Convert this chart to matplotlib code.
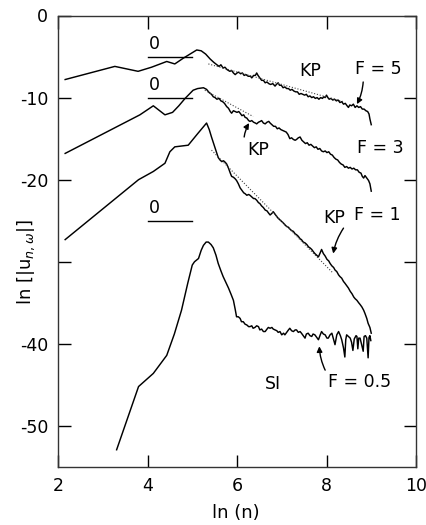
import matplotlib
matplotlib.use("Agg")
import matplotlib.pyplot as plt

# Spectral amplitude curves, ln|u_{n,w}| against ln(n), for four forcing strengths
f5_x = [2.16, 3.27, 3.79, 4.09, 4.43, 4.61, 4.80, 4.95, 5.10, 5.20, 5.30, 5.40, 5.48,
        5.55, 5.60, 5.64, 5.69, 5.73, 5.78, 5.84, 5.88, 5.92, 5.96, 6.00, 6.04, 6.08,
        6.12, 6.16, 6.20, 6.25, 6.30, 6.33, 6.37, 6.41, 6.44, 6.47, 6.51, 6.55, 6.59,
        6.63, 6.67, 6.71, 6.75, 6.80, 6.85, 6.88, 6.92, 6.95, 6.99, 7.03, 7.07, 7.11,
        7.15, 7.19, 7.23, 7.27, 7.31, 7.35, 7.39, 7.43, 7.47, 7.51, 7.55, 7.59, 7.63,
        7.67, 7.71, 7.75, 7.79, 7.83, 7.87, 7.91, 7.94, 7.97, 8.00, 8.03, 8.06, 8.10,
        8.14, 8.18, 8.22, 8.26, 8.30, 8.34, 8.38, 8.42, 8.46, 8.49, 8.52, 8.56, 8.60,
        8.64, 8.68, 8.72, 8.76, 8.80, 8.84, 8.88, 8.92, 8.95, 8.97, 9.00]
f5_y = [-7.8, -6.2, -6.8, -6.3, -5.6, -5.9, -5.2, -4.7, -4.2, -4.3, -4.7, -5.3, -5.7,
        -6.0, -6.2, -6.0, -6.4, -6.3, -6.6, -6.8, -6.7, -7.0, -7.2, -7.0, -6.9, -7.1,
        -7.0, -7.3, -7.2, -7.4, -7.4, -7.6, -7.3, -7.3, -7.0, -7.3, -7.6, -7.9, -7.9,
        -8.2, -8.1, -8.3, -8.4, -8.3, -8.6, -8.4, -8.2, -8.5, -8.5, -8.8, -8.7, -8.9,
        -8.9, -9.1, -9.0, -9.2, -9.3, -9.3, -9.6, -9.5, -9.6, -9.7, -9.6, -9.9, -9.8,
        -10.0, -9.9, -10.1, -10.0, -10.2, -10.0, -10.1, -9.9, -10.0, -9.7, -10.0, -10.2, -10.1,
        -10.3, -10.2, -10.4, -10.3, -10.6, -10.5, -10.8, -10.7, -11.0, -11.2, -10.9, -11.0, -10.8,
        -11.2, -11.0, -11.2, -11.1, -11.4, -11.4, -11.6, -11.7, -12.0, -12.6, -13.3]

f3_x = [2.16, 3.83, 4.13, 4.39, 4.56, 4.70, 4.84, 5.02, 5.12, 5.25, 5.32, 5.38, 5.43,
        5.47, 5.51, 5.55, 5.60, 5.64, 5.68, 5.72, 5.77, 5.81, 5.85, 5.88, 5.92, 5.96,
        6.00, 6.04, 6.07, 6.11, 6.15, 6.18, 6.22, 6.26, 6.29, 6.33, 6.37, 6.41, 6.44,
        6.48, 6.52, 6.55, 6.59, 6.63, 6.67, 6.71, 6.74, 6.78, 6.82, 6.86, 6.90, 6.94,
        6.98, 7.02, 7.06, 7.10, 7.14, 7.18, 7.22, 7.26, 7.30, 7.33, 7.37, 7.41, 7.45,
        7.49, 7.53, 7.57, 7.61, 7.65, 7.69, 7.73, 7.77, 7.81, 7.85, 7.89, 7.93, 7.97,
        8.01, 8.05, 8.09, 8.13, 8.17, 8.21, 8.25, 8.29, 8.33, 8.37, 8.41, 8.45, 8.49,
        8.53, 8.57, 8.61, 8.65, 8.69, 8.73, 8.77, 8.80, 8.83, 8.86, 8.90, 8.94, 8.97, 9.00]
f3_y = [-16.8, -12.1, -11.0, -12.1, -11.8, -11.0, -10.1, -9.1, -8.9, -8.8, -9.0, -9.4, -9.6,
        -9.9, -10.0, -10.2, -10.1, -10.4, -10.5, -10.7, -11.1, -11.3, -11.7, -11.9, -11.6, -11.7,
        -11.8, -11.7, -11.9, -12.2, -12.1, -12.4, -12.5, -12.8, -12.9, -12.8, -13.0, -13.1, -13.2,
        -13.0, -12.9, -12.8, -13.1, -13.2, -13.0, -12.9, -13.1, -13.3, -13.5, -13.5, -13.8, -13.7,
        -13.9, -14.0, -14.1, -14.2, -14.5, -15.0, -14.9, -15.1, -15.2, -15.1, -14.9, -14.8, -15.2,
        -15.4, -15.6, -15.5, -15.8, -15.7, -15.9, -16.1, -16.0, -16.3, -16.2, -16.5, -16.6, -16.5,
        -16.7, -16.6, -16.9, -17.0, -17.3, -17.5, -17.6, -17.9, -18.1, -18.2, -18.5, -18.4, -18.6,
        -18.5, -18.7, -18.6, -18.8, -18.8, -19.1, -19.2, -19.6, -19.8, -19.5, -19.8, -20.1, -20.5, -21.4]

f1_x = [2.16, 3.80, 4.13, 4.39, 4.50, 4.61, 4.91, 5.12, 5.32, 5.38, 5.43, 5.49, 5.55,
        5.58, 5.62, 5.66, 5.70, 5.74, 5.77, 5.81, 5.85, 5.88, 5.92, 5.96, 5.99, 6.03,
        6.07, 6.11, 6.15, 6.18, 6.22, 6.26, 6.29, 6.33, 6.37, 6.40, 6.44, 6.48, 6.51,
        6.55, 6.59, 6.63, 6.67, 6.71, 6.74, 6.78, 6.81, 6.85, 6.89, 6.92, 6.96, 7.00,
        7.04, 7.07, 7.11, 7.15, 7.18, 7.22, 7.26, 7.30, 7.33, 7.37, 7.41, 7.44, 7.48,
        7.52, 7.56, 7.60, 7.63, 7.67, 7.71, 7.74, 7.78, 7.82, 7.86, 7.89, 7.93, 7.97,
        8.01, 8.05, 8.08, 8.12, 8.16, 8.19, 8.23, 8.27, 8.30, 8.34, 8.38, 8.41, 8.45,
        8.49, 8.53, 8.57, 8.61, 8.64, 8.68, 8.72, 8.75, 8.79, 8.83, 8.86, 8.90, 8.93, 8.97, 9.00]
f1_y = [-27.3, -20.0, -19.0, -18.0, -16.6, -16.0, -15.8, -14.4, -13.1, -13.9, -14.8, -15.8, -16.8,
        -17.3, -17.6, -17.8, -17.7, -17.9, -18.1, -18.6, -19.2, -19.6, -19.7, -19.9, -20.1, -20.5,
        -21.0, -21.3, -21.6, -21.7, -21.9, -21.8, -21.9, -22.1, -22.3, -22.3, -22.5, -22.8, -22.9,
        -23.2, -23.4, -23.7, -23.8, -24.1, -24.3, -24.1, -23.9, -24.2, -24.5, -24.7, -24.9, -25.1,
        -25.3, -25.5, -25.7, -25.8, -26.0, -26.2, -26.3, -26.6, -26.7, -26.9, -27.2, -27.3, -27.6,
        -27.7, -27.9, -28.2, -28.3, -28.5, -28.8, -29.0, -29.2, -29.4, -28.9, -28.5, -29.0, -29.3,
        -29.7, -29.9, -30.2, -30.5, -30.7, -31.0, -31.2, -31.6, -31.8, -32.0, -32.4, -32.6, -32.9,
        -33.2, -33.6, -33.9, -34.3, -34.5, -34.7, -35.0, -35.2, -35.5, -35.9, -36.3, -36.9, -37.5, -38.0, -38.7]

f05_x = [3.31, 3.80, 4.13, 4.43, 4.60, 4.76, 4.90, 5.00, 5.05, 5.14, 5.20, 5.25, 5.31,
         5.36, 5.42, 5.47, 5.53, 5.58, 5.64, 5.69, 5.75, 5.81, 5.87, 5.92, 5.96, 5.99,
         6.03, 6.07, 6.10, 6.14, 6.18, 6.22, 6.26, 6.29, 6.33, 6.36, 6.40, 6.44, 6.48,
         6.51, 6.55, 6.59, 6.63, 6.67, 6.70, 6.74, 6.78, 6.81, 6.85, 6.89, 6.92, 6.96,
         7.00, 7.04, 7.07, 7.11, 7.15, 7.18, 7.22, 7.26, 7.30, 7.33, 7.37, 7.41, 7.44,
         7.48, 7.52, 7.55, 7.59, 7.63, 7.67, 7.70, 7.74, 7.78, 7.82, 7.86, 7.89, 7.93,
         7.97, 8.01, 8.04, 8.08, 8.12, 8.16, 8.19, 8.23, 8.27, 8.31, 8.34, 8.38, 8.41,
         8.43, 8.45, 8.49, 8.53, 8.56, 8.59, 8.62, 8.66, 8.68, 8.70, 8.72, 8.75, 8.79,
         8.82, 8.84, 8.87, 8.90, 8.93, 8.95, 8.97, 8.99]
f05_y = [-52.9, -45.2, -43.6, -41.4, -38.8, -35.9, -32.6, -30.4, -30.0, -29.6, -28.6, -28.0, -27.6,
         -27.6, -27.9, -28.3, -29.2, -30.2, -31.1, -31.8, -32.5, -33.2, -34.0, -34.7, -35.8, -36.7,
         -36.7, -36.9, -37.3, -37.3, -37.6, -37.7, -37.9, -37.9, -37.8, -38.1, -38.0, -37.8, -37.9,
         -38.3, -38.2, -38.5, -38.5, -38.2, -38.0, -38.1, -38.0, -38.2, -38.3, -38.4, -38.6, -38.5,
         -38.9, -38.7, -38.9, -38.6, -38.3, -38.1, -38.4, -38.5, -38.3, -38.3, -38.6, -38.5, -38.7,
         -39.0, -39.3, -38.8, -38.7, -39.0, -39.1, -38.8, -38.9, -39.2, -39.5, -38.9, -38.5, -38.8,
         -38.9, -39.3, -39.3, -38.9, -38.7, -39.5, -40.1, -38.9, -38.5, -39.0, -39.5, -40.5, -41.6,
         -39.5, -38.9, -39.1, -39.3, -39.8, -40.8, -39.4, -39.0, -39.1, -40.6, -39.3, -39.3, -40.2,
         -40.9, -39.1, -39.0, -39.3, -41.7, -39.2, -39.0, -39.6]

# KP power-law fits (dotted segments): (x0, y0, x1, y1)
kp_f5 = [5.36, -5.9, 8.38, -10.5]
kp_f3 = [5.28, -9.1, 6.36, -12.3]
kp_f1 = [5.43, -16.4, 8.15, -31.4]

# Zero-level markers for the shifted curves: (level, x_start, x_end)
zero_levels = [(-5.0, 4.0, 5.0), (-10.0, 4.0, 5.0), (-25.0, 4.0, 5.0)]

x_ticks = [2, 4, 6, 8, 10]
y_ticks = [0, -10, -20, -30, -40, -50]
y_ticklabels = ["0", "-10", "-20", "", "-40", "-50"]

fig = plt.figure(figsize=(4.27, 5.25), dpi=100)
ax = fig.add_axes([58 / 427, 1 - 467 / 525, (416 - 58) / 427, (467 - 15.5) / 525])

line_kw = dict(color="black", lw=1.05, solid_joinstyle="round")
ax.plot(f5_x, f5_y, **line_kw)
ax.plot(f3_x, f3_y, **line_kw)
ax.plot(f1_x, f1_y, **line_kw)
ax.plot(f05_x, f05_y, **line_kw)

dot_kw = dict(color="#444444", lw=0.8, linestyle=(0, (1, 1.6)))
for seg in (kp_f5, kp_f3, kp_f1):
    ax.plot([seg[0], seg[2]], [seg[1], seg[3]], **dot_kw)

for lvl, xa, xb in zero_levels:
    ax.plot([xa, xb], [lvl, lvl], color="black", lw=1.0)
    ax.text(4.16, lvl + 1.5, "0", ha="center", va="center", fontsize=12.5)

ax.set_xlim(2, 10)
ax.set_ylim(-55, 0)
ax.set_xticks(x_ticks)
ax.set_yticks(y_ticks)
ax.set_yticklabels(y_ticklabels)
ax.tick_params(direction="in", length=9, width=1.0, labelsize=12.5,
               top=True, right=True, pad=7)
for s in ax.spines.values():
    s.set_linewidth(1.0)
    s.set_color("#333333")

fig.text(236 / 427, 1 - 513 / 525, "ln (n)", ha="center", va="center", fontsize=13)
fig.text(26 / 427, 1 - 262 / 525, r"ln [|u$_{n,\omega}$|]", rotation=90,
         ha="center", va="center", fontsize=13)

txt_kw = dict(ha="center", va="center", fontsize=12.5)
ax.text(7.64, -6.8, "KP", **txt_kw)
ax.text(9.16, -6.5, "F = 5", **txt_kw)
ax.text(6.47, -16.4, "KP", **txt_kw)
ax.text(9.20, -16.2, "F = 3", **txt_kw)
ax.text(8.17, -24.7, "KP", **txt_kw)
ax.text(9.14, -24.3, "F = 1", **txt_kw)
ax.text(6.81, -44.9, "SI", **txt_kw)
ax.text(8.75, -44.7, "F = 0.5", **txt_kw)

arrow_kw = dict(arrowstyle="-|>", color="black", lw=1.0, mutation_scale=8,
                shrinkA=0, shrinkB=0)
ax.annotate("", xy=(8.68, -10.8), xytext=(8.82, -8.1),
            arrowprops=dict(connectionstyle="arc3,rad=-0.1", **arrow_kw))
ax.annotate("", xy=(6.27, -13.1), xytext=(6.16, -14.8),
            arrowprops=dict(connectionstyle="arc3,rad=-0.1", **arrow_kw))
ax.annotate("", xy=(8.15, -29.0), xytext=(8.38, -25.9),
            arrowprops=dict(connectionstyle="arc3,rad=0.1", **arrow_kw))
ax.annotate("", xy=(7.84, -40.3), xytext=(7.97, -43.2),
            arrowprops=dict(connectionstyle="arc3,rad=-0.1", **arrow_kw))

fig.savefig("out.png", dpi=100)
